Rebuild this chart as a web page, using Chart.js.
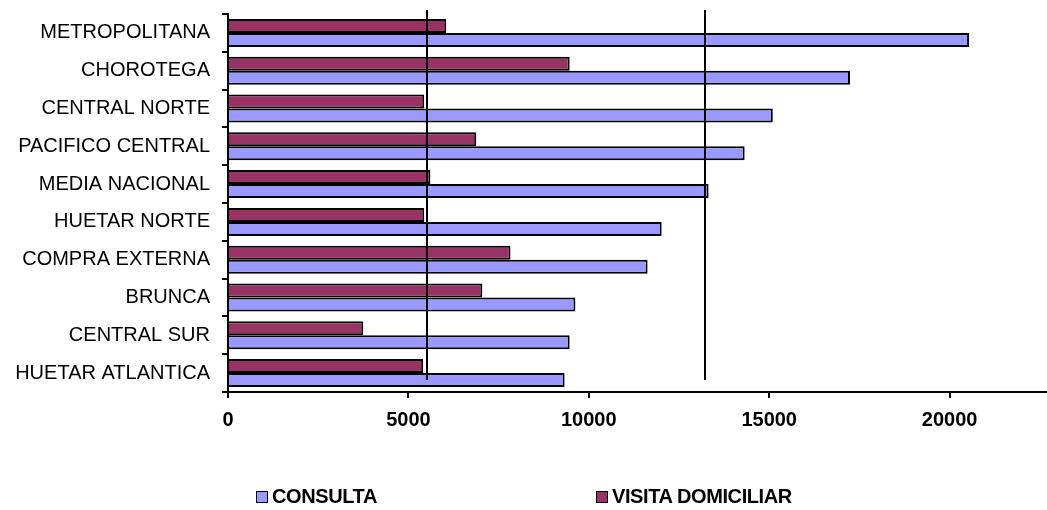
<!DOCTYPE html>
<html>
<head>
<meta charset="utf-8">
<script src="https://cdn.jsdelivr.net/npm/chart.js@4/dist/chart.umd.min.js"></script>
<style>
    html, body { margin: 0; padding: 0; background: #fff; }
    #wrap { position: relative; width: 1047px; height: 510px; }
    #legend { position: absolute; top: 485px; left: 0; width: 1047px; font: bold 20px "Liberation Sans", Arial, sans-serif; letter-spacing: -0.4px; color: #000; }
    .item { position: absolute; display: flex; align-items: center; white-space: nowrap; }
    .box { width: 10px; height: 10px; border: 1.5px solid #000; margin-right: 4px; }
</style>
</head>
<body>
<div id="wrap">
    <canvas id="chart" width="1047" height="510"></canvas>
    <div id="legend"></div>
</div>
<script>
// categorías y valores
const categories = ['METROPOLITANA', 'CHOROTEGA', 'CENTRAL NORTE', 'PACIFICO CENTRAL', 'MEDIA NACIONAL',
    'HUETAR NORTE', 'COMPRA EXTERNA', 'BRUNCA', 'CENTRAL SUR', 'HUETAR ATLANTICA'];
const consulta = [20540, 17240, 15100, 14320, 13320, 12020, 11630, 9630, 9470, 9330];
const visita = [6050, 9470, 5440, 6880, 5610, 5440, 7830, 7050, 3750, 5410];
const referenceLines = [5520, 13210]; // líneas verticales de promedio
const xTicks = [0, 5000, 10000, 15000, 20000];

const FONT = '"Liberation Sans", Arial, sans-serif';

// dibuja las líneas verticales usando la escala x
const refLinesPlugin = {
    id: 'refLines',
    afterDatasetsDraw(chart) {
        const { ctx, chartArea, scales } = chart;
        ctx.save();
        ctx.strokeStyle = '#000';
        ctx.lineWidth = 2;
        referenceLines.forEach(v => {
            const x = Math.round(scales.x.getPixelForValue(v));
            ctx.beginPath();
            ctx.moveTo(x, chartArea.top - 4);
            ctx.lineTo(x, chartArea.bottom - 12);
            ctx.stroke();
        });
        ctx.restore();
    }
};

const chart = new Chart(document.getElementById('chart'), {
    type: 'bar',
    data: {
        labels: categories,
        datasets: [
            { label: 'VISITA DOMICILIAR', data: visita, backgroundColor: '#993366', borderColor: '#000', borderWidth: 2 },
            { label: 'CONSULTA', data: consulta, backgroundColor: '#9999FF', borderColor: '#000', borderWidth: 2 }
        ]
    },
    options: {
        indexAxis: 'y',
        responsive: false,
        animation: false,
        devicePixelRatio: 1,
        categoryPercentage: 0.74,
        barPercentage: 1.0,
        layout: { padding: { top: 14, left: 8, right: 0, bottom: 73 } },
        plugins: {
            legend: { display: false },
            tooltip: { enabled: false }
        },
        scales: {
            x: {
                min: 0,
                max: 22700,
                afterBuildTicks(scale) {
                    scale.ticks = xTicks.map(v => ({ value: v }));
                },
                afterFit(scale) {
                    scale.height = 45;
                    scale.paddingLeft = 0;
                    scale.paddingRight = 0;
                },
                border: { display: true, color: '#000', width: 2 },
                grid: { display: true, drawOnChartArea: false, tickLength: 6, color: '#000', lineWidth: 2 },
                ticks: { color: '#000', padding: 10, callback: v => String(v), font: { family: FONT, size: 20, weight: 'bold' } }
            },
            y: {
                afterFit(scale) {
                    scale.width = 220;
                    scale.paddingTop = 0;
                    scale.paddingBottom = 0;
                },
                border: { display: true, color: '#000', width: 2 },
                grid: { display: true, drawOnChartArea: false, tickLength: 6, color: '#000', lineWidth: 2, offset: true },
                ticks: { color: '#000', padding: 12, font: { family: FONT, size: 20 } }
            }
        }
    },
    plugins: [refLinesPlugin]
});

// leyenda en HTML (orden: CONSULTA, VISITA DOMICILIAR)
const legendItems = [
    { text: 'CONSULTA', color: '#9999FF', left: 256 },
    { text: 'VISITA DOMICILIAR', color: '#993366', left: 596 }
];
const legendEl = document.getElementById('legend');
legendItems.forEach(it => {
    const d = document.createElement('div');
    d.className = 'item';
    d.style.left = it.left + 'px';
    d.innerHTML = '<span class="box" style="background:' + it.color + '"></span>' + it.text;
    legendEl.appendChild(d);
});
</script>
</body>
</html>
